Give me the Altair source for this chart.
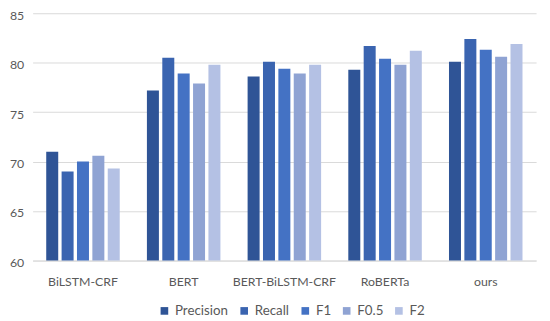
import altair as alt
import pandas as pd

models = ["BiLSTM-CRF", "BERT", "BERT-BiLSTM-CRF", "RoBERTa", "ours"]
metrics = ["Precision", "Recall", "F1", "F0.5", "F2"]
precision = [71.0, 77.2, 78.6, 79.3, 80.1]
recall = [69.0, 80.5, 80.1, 81.7, 82.4]
f1 = [70.0, 78.9, 79.4, 80.4, 81.3]
f05 = [70.6, 77.9, 78.9, 79.8, 80.6]
f2 = [69.3, 79.8, 79.8, 81.2, 81.9]
colors = ["#2F5496", "#3A64B0", "#4472C4", "#8FA3D3", "#B4C1E4"]

series = {"Precision": precision, "Recall": recall, "F1": f1, "F0.5": f05, "F2": f2}
rows = []
for m in metrics:
    for i, mod in enumerate(models):
        rows.append({"model": mod, "metric": m, "value": series[m][i]})
df = pd.DataFrame(rows)

font = "Lato"
chart = alt.Chart(df).mark_bar(clip=True).encode(
    x=alt.X("model:N", sort=models, title=None,
            scale=alt.Scale(paddingInner=0.27, paddingOuter=0.135),
            axis=alt.Axis(labelAngle=0, ticks=False, domainColor="#D9D9D9",
                          labelColor="#595959", labelFont=font, labelFontSize=12.5,
                          labelPadding=15, grid=False)),
    xOffset=alt.XOffset("metric:N", sort=metrics,
                        scale=alt.Scale(paddingInner=0.22, paddingOuter=0.0)),
    y=alt.Y("value:Q", title=None,
            scale=alt.Scale(domain=[60, 85], nice=False, zero=False),
            axis=alt.Axis(values=[60, 65, 70, 75, 80, 85], ticks=False, domain=False,
                          gridColor="#D9D9D9", labelColor="#595959", labelFont=font,
                          labelFontSize=12.5, labelPadding=9, labelOffset=2)),
    color=alt.Color("metric:N", sort=metrics,
                    scale=alt.Scale(domain=metrics, range=colors),
                    legend=alt.Legend(title=None, orient="none", direction="horizontal",
                                      legendX=127, legendY=295, symbolType="square",
                                      symbolSize=60, symbolStrokeWidth=0,
                                      labelFont=font, labelFontSize=13.5,
                                      labelColor="#595959", columnPadding=9,
                                      labelOffset=4)),
).properties(
    width=511, height=251,
    autosize=alt.AutoSizeParams(type="none"),
    padding={"left": 25, "top": 3, "right": 6, "bottom": 56},
).configure_view(stroke=None)

chart.save("out.html", embed_options={"renderer": "svg", "actions": False})
